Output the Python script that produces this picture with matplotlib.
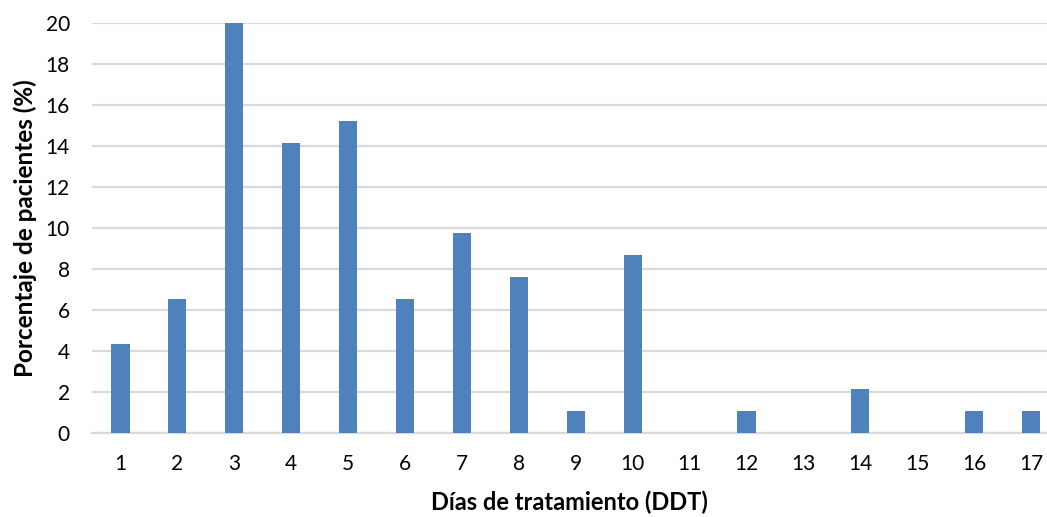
import matplotlib
matplotlib.use("Agg")
import matplotlib.pyplot as plt

# ============ Data ============
dias = list(range(1, 18))
porcentaje = [4.35, 6.52, 20.0, 14.13, 15.22, 6.52, 9.78, 7.61, 1.09,
              8.70, 0, 1.09, 0, 2.17, 0, 1.09, 1.09]
y_ticks = list(range(0, 21, 2))

plt.rcParams['font.family'] = ['Lato', 'DejaVu Sans']

fig = plt.figure(figsize=(10.47, 5.17), dpi=100)
ax = fig.add_axes([92 / 1047, 1 - 433 / 517, 1 - 92 / 1047, (433 - 23) / 517])

ax.bar(dias, porcentaje, width=0.32, color='#4F81BD', zorder=3)

ax.set_xlim(0.5, 17.28)
ax.set_ylim(0, 20)
ax.set_yticks(y_ticks)
ax.set_xticks(dias)
ax.set_xticklabels([str(d) for d in dias])

ax.grid(axis='y', color='#D9D9D9', linewidth=1.6, zorder=0)
ax.set_axisbelow(True)
for side in ('top', 'right', 'left'):
    ax.spines[side].set_visible(False)
ax.spines['bottom'].set_color('#D9D9D9')
ax.spines['bottom'].set_linewidth(1.6)
ax.spines['bottom'].set_zorder(1)

ax.tick_params(axis='both', length=0, labelsize=15, colors='#000000')
ax.tick_params(axis='x', pad=15)
ax.tick_params(axis='y', pad=16)

ax.set_xlabel('Días de tratamiento (DDT)', fontsize=17, fontweight='bold', labelpad=12)
ax.set_ylabel('Porcentaje de pacientes (%)', fontsize=17.5, fontweight='bold', labelpad=6)

fig.savefig('out.png', dpi=100)
